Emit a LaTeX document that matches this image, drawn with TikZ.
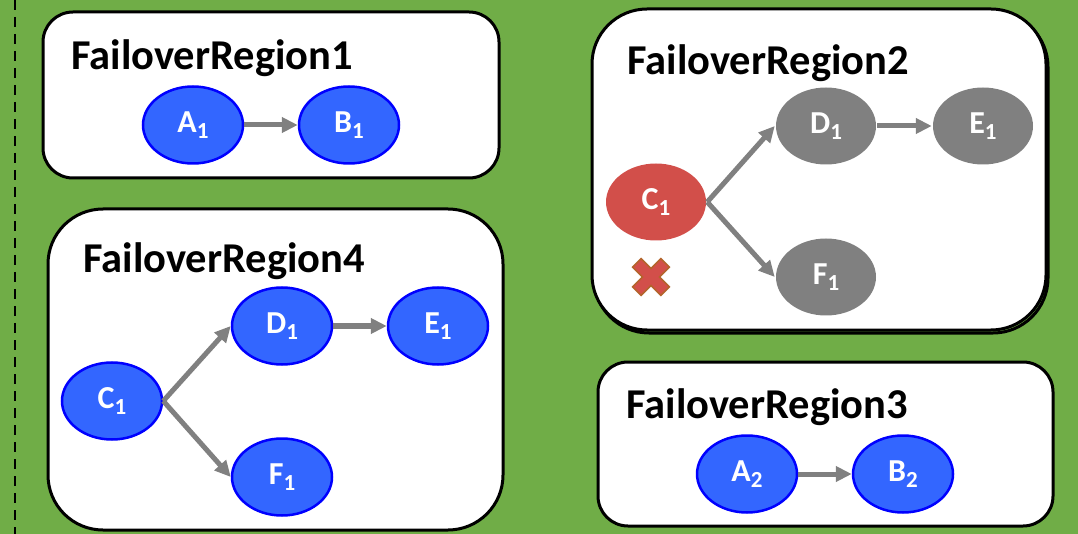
\documentclass[tikz,border=0pt]{standalone}
\usepackage{fontspec}
\setmainfont{Carlito}
\usetikzlibrary{shapes.geometric,arrows.meta}
\definecolor{bggreen}{HTML}{70AD47}
\definecolor{nodeblue}{HTML}{3366FF}
\definecolor{failred}{HTML}{D24F4A}
\definecolor{crossedge}{HTML}{B4642C}
\newcommand{\tsub}[1]{\raisebox{-6pt}{\fontsize{23}{23}\selectfont #1}}

\begin{document}
\begin{tikzpicture}[x=1pt,y=-1pt,
    regionbox/.style={draw=black,line width=3pt,fill=white},
    regiontitle/.style={anchor=base west,inner sep=0pt,font=\fontsize{42.5}{42.5}\selectfont\bfseries},
    task/.style={ellipse,draw=blue,line width=2.5pt,fill=nodeblue,text=white,
      minimum width=100pt,minimum height=77pt,inner sep=0pt,
      font=\fontsize{32}{32}\selectfont\bfseries},
    deadtask/.style={task,draw=none,fill=gray},
    failtask/.style={task,draw=none,fill=failred},
    edge/.style={draw=gray,line width=5pt,-{Triangle[length=16pt,width=15pt]}}]
      \fill[bggreen] (0,0) rectangle (1078,534);
      \useasboundingbox (0,0) rectangle (1078,534);
      \draw[line width=2.7pt,dash pattern=on 10pt off 7pt] (15,0) -- (15,534);

      % FailoverRegion1
      \draw[regionbox,rounded corners=30pt] (43,12) rectangle (499,178);
      \node[regiontitle] (title1) at (71,70) {FailoverRegion1};
      \node[task] (a1) at (193,125) {A\tsub{1}};
      \node[task] (b1) at (349,125) {B\tsub{1}};
      \draw[edge] (a1) -- (b1);

      % FailoverRegion2 (failed)
      \draw[black,line width=3pt,rounded corners=55pt] (594,12) rectangle (1048,333);
      \draw[regionbox,rounded corners=55pt] (592,9) rectangle (1046,330);
      \node[regiontitle] (title2) at (627,75) {FailoverRegion2};
      \node[failtask] (c1f) at (656,202) {C\tsub{1}};
      \node[deadtask] (d1f) at (826,126) {D\tsub{1}};
      \node[deadtask] (e1f) at (983,126) {E\tsub{1}};
      \node[deadtask] (f1f) at (826,277) {F\tsub{1}};
      \draw[edge] (c1f.east) -- (d1f.west);
      \draw[edge] (c1f.east) -- (f1f.west);
      \draw[edge] (d1f) -- (e1f);
      \fill[failred,draw=crossedge,line width=1.5pt,shift={(651,277)},rotate=45]
        (-6,-20) -- (6,-20) -- (6,-6) -- (20,-6) -- (20,6) -- (6,6) -- (6,20)
        -- (-6,20) -- (-6,6) -- (-20,6) -- (-20,-6) -- (-6,-6) -- cycle;

      % FailoverRegion4
      \draw[regionbox,rounded corners=55pt] (48,209) rectangle (503,530);
      \node[regiontitle] (title4) at (83,273) {FailoverRegion4};
      \node[task] (c1) at (112,401) {C\tsub{1}};
      \node[task] (d1) at (282,326) {D\tsub{1}};
      \node[task] (e1) at (438,326) {E\tsub{1}};
      \node[task] (f1) at (282,477) {F\tsub{1}};
      \draw[edge] (c1.east) -- (d1.west);
      \draw[edge] (c1.east) -- (f1.west);
      \draw[edge] (d1) -- (e1);

      % FailoverRegion3
      \draw[regionbox,rounded corners=30pt] (598,362) rectangle (1053,526);
      \node[regiontitle] (title3) at (626,418) {FailoverRegion3};
      \node[task] (a2) at (747,474) {A\tsub{2}};
      \node[task] (b2) at (903,474) {B\tsub{2}};
      \draw[edge] (a2) -- (b2);
\end{tikzpicture}
\end{document}
